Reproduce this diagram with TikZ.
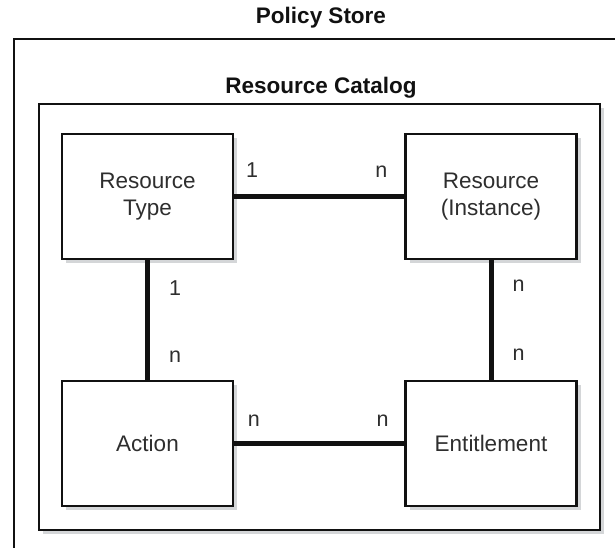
\documentclass[tikz,border=0pt]{standalone}
\usepackage{fontspec}
\setmainfont{Liberation Sans}
\usepackage{xcolor}
\usetikzlibrary{positioning,shadows}
\definecolor{ink}{HTML}{111111}
\definecolor{label}{HTML}{2E2E2E}
\definecolor{shade}{HTML}{D4D6D8}

\begin{document}
\begin{tikzpicture}[
  x=1pt,y=-1pt,
  frame/.style={draw=ink,line width=2pt},
  catalog/.style={frame,fill=white,minimum width=561pt,minimum height=426pt,inner sep=0pt,
                  drop shadow={shadow xshift=4pt,shadow yshift=-4pt,fill=shade,opacity=1}},
  box/.style={draw=ink,line width=2.5pt,fill=white,align=center,inner sep=0pt,
              minimum width=171pt,minimum height=125pt,text=label,
              font=\fontsize{22.5}{27}\selectfont,
              drop shadow={shadow xshift=4pt,shadow yshift=-4pt,fill=shade,opacity=1}},
  title/.style={font=\bfseries\fontsize{22.5}{26}\selectfont,text=ink,inner sep=0pt},
  card/.style={font=\fontsize{21.5}{24}\selectfont,text=label,inner sep=0pt},
  link/.style={draw=ink,line width=5pt}
]
\clip (0,0) rectangle (615,548);

% 1. Policy store frame, runs off the page.
\node[title] (storetitle) at (321,18) {Policy Store};
\draw[frame] (640,39) -| (14,570);

% 2. Resource catalog.
\node[catalog] (catalog) at (319.5,317) {};
\node[title] (cattitle) at (321,88) {Resource Catalog};

% 3. Entities.
\node[box] (rtype) at (147.5,196.5) {Resource\\Type};
\node[box] (rinst) at (491,196.5) {Resource\\(Instance)};
\node[box] (action) at (147.5,443.5) {Action};
\node[box] (entitle) at (491,443.5) {Entitlement};

% 4. Relations with cardinalities.
\draw[link] (rtype) -- node[card,pos=.105,above=16pt] {1}
                       node[card,pos=.866,above=16pt] {n} (rinst);
\draw[link] (rtype) -- node[card,pos=.23,right=19pt] {1}
                       node[card,pos=.81,right=19pt] {n} (action);
\draw[link] (rinst) -- node[card,pos=.21,right=19pt] {n}
                       node[card,pos=.79,right=19pt] {n} (entitle);
\draw[link] (action) -- node[card,pos=.116,above=15pt] {n}
                        node[card,pos=.872,above=15pt] {n} (entitle);

\end{tikzpicture}
\end{document}
